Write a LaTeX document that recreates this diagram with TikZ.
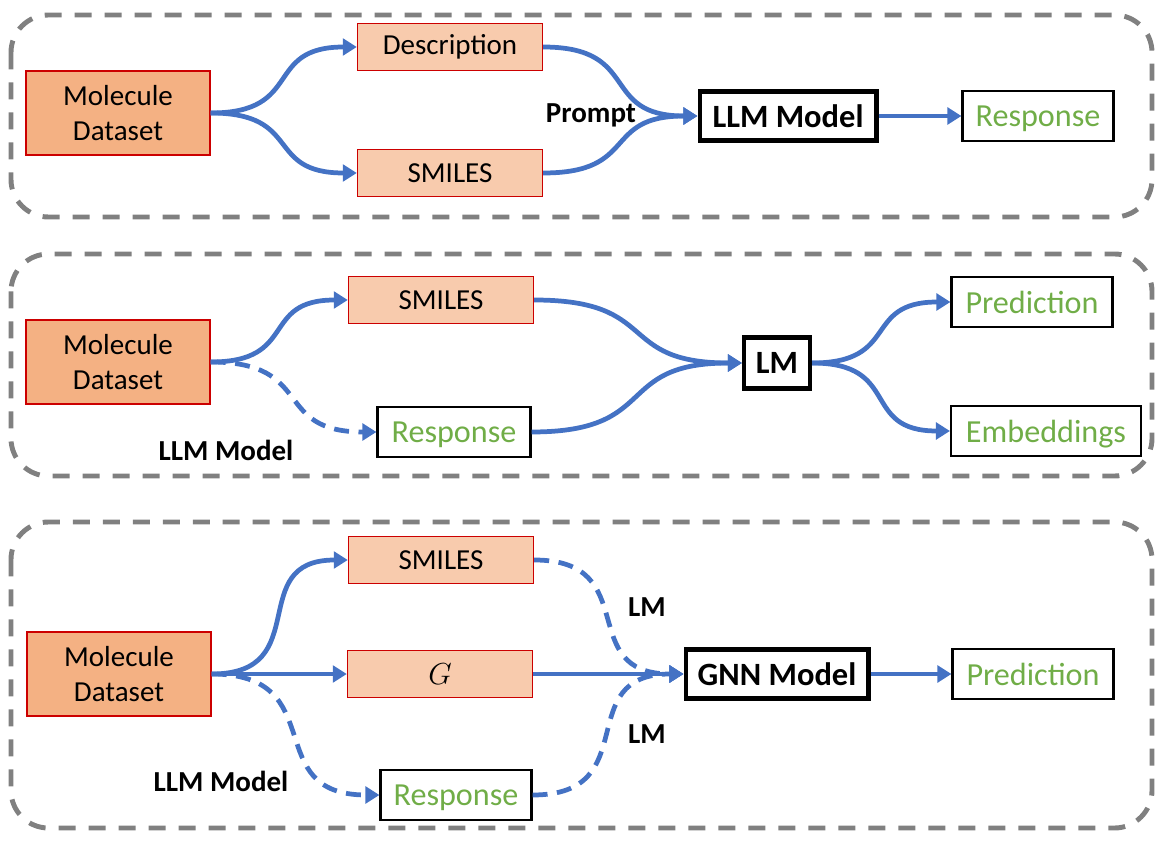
\documentclass[tikz,border=0pt]{standalone}
\usepackage{fontspec}
\setmainfont{Carlito}
\usetikzlibrary{positioning,arrows.meta,calc}
\definecolor{dsfill}{RGB}{244,177,131}
\definecolor{infill}{RGB}{248,203,173}
\definecolor{boxred}{RGB}{204,0,0}
\definecolor{flowblue}{RGB}{68,114,196}
\definecolor{outgreen}{RGB}{112,173,71}
\definecolor{panelgray}{RGB}{128,128,128}

\begin{document}
\begin{tikzpicture}[x=0.02cm,y=-0.02cm,
  dsbox/.style={draw=boxred,fill=dsfill,line width=0.8pt,minimum width=3.68cm,
                minimum height=1.68cm,align=center,inner sep=0pt,
                font=\fontsize{16.5}{19.5}\selectfont},
  inbox/.style={draw=boxred,fill=infill,line width=0.8pt,minimum width=3.7cm,
                minimum height=0.94cm,inner sep=0pt,font=\fontsize{16.5}{19.5}\selectfont},
  modelbox/.style={draw,line width=2.3pt,minimum height=0.98cm,inner sep=0pt,
                   font=\fontsize{18.5}{22}\selectfont\bfseries},
  outbox/.style={draw,line width=1.2pt,minimum height=1cm,inner sep=0pt,text depth=0pt,
                 text=outgreen,font=\fontsize{18.3}{22}\selectfont},
  lbl/.style={font=\fontsize{16.5}{19.5}\selectfont\bfseries},
  panel/.style={draw=panelgray,line width=2.8pt,dash pattern=on 0.34cm off 0.26cm,
                rounded corners=0.75cm},
  arr/.style={flowblue,line width=2.7pt,-{Triangle[length=8pt,width=9.5pt]}},
  dasharr/.style={arr,dash pattern=on 0.3cm off 0.19cm},
  sbend/.style={out=0,in=180,looseness=1.5}
]
\useasboundingbox (0,0) rectangle (1163,844);

% Panels
\draw[panel] (11,15) rectangle (1152,217);
\draw[panel] (11,254) rectangle (1152,476);
\draw[panel] (11,522) rectangle (1152,828);

% Panel 1: prompting
\node[dsbox] (md1) at (118,113) {Molecule\\Dataset};
\node[inbox] (desc) at (450,47) {Description};
\node[inbox] (smi1) at (450,173) {SMILES};
\node[modelbox,minimum width=3.54cm] (llm) at (788,116) {LLM Model};
\node[outbox,minimum width=3.02cm] (resp1) at (1038,116) {Response};
\node[lbl] (prompt) at (591,115) {Prompt};

\draw[arr] (md1.east) to[sbend] (desc.west);
\draw[arr] (md1.east) to[sbend] (smi1.west);
\draw[arr] (desc.east) to[sbend] (llm.west);
\draw[arr] (smi1.east) to[sbend] (llm.west);
\draw[arr] (llm) -- (resp1);

% Panel 2: LM on SMILES and response
\node[dsbox] (md2) at (118,362) {Molecule\\Dataset};
\node[inbox] (smi2) at (441,300) {SMILES};
\node[outbox,minimum width=3.06cm] (resp2) at (454,432) {Response};
\node[modelbox,minimum width=1.32cm,minimum height=1.02cm] (lm) at (777,363) {LM};
\node[outbox,minimum width=3.22cm] (pred2) at (1032,302) {Prediction};
\node[outbox,minimum width=3.8cm] (emb) at (1046,431) {Embeddings};
\node[lbl] (llmlbl2) at (226,450) {LLM Model};

\draw[arr] (md2.east) to[sbend] (smi2.west);
\draw[dasharr] (md2.east) to[sbend] (resp2.west);
\draw[arr] (smi2.east) to[sbend] (lm.west);
\draw[arr] (resp2.east) to[sbend] (lm.west);
\draw[arr] (lm.east) to[sbend] (pred2.west);
\draw[arr] (lm.east) to[sbend] (emb.west);

% Panel 3: GNN
\node[dsbox] (md3) at (119,674) {Molecule\\Dataset};
\node[inbox] (smi3) at (441,560) {SMILES};
\node[inbox] (gr) at (440,674) {$G$};
\node[outbox,minimum width=3.02cm] (resp3) at (456,795) {Response};
\node[modelbox,minimum width=3.66cm] (gnn) at (777,674) {GNN Model};
\node[outbox,minimum width=3.22cm] (pred3) at (1033,674) {Prediction};
\node[lbl] (llmlbl3) at (221,781) {LLM Model};
\node[lbl] (lmlbla) at (647,607) {LM};
\node[lbl] (lmlblb) at (647,734) {LM};

\draw[arr] (md3.east) to[sbend] (smi3.west);
\draw[arr] (md3.east) -- (gr.west);
\draw[dasharr] (md3.east) to[sbend] (resp3.west);
\draw[dasharr] (smi3.east) to[sbend] (gnn.west);
\draw[arr] (gr.east) -- (gnn.west);
\draw[dasharr] (resp3.east) to[sbend] (gnn.west);
\draw[arr] (gnn) -- (pred3);
\end{tikzpicture}
\end{document}
